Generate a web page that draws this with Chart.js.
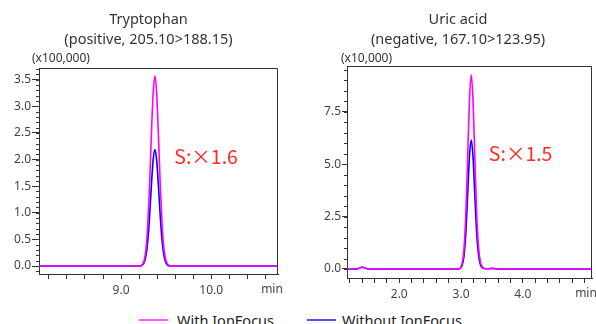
<!DOCTYPE html>
<html>
<head>
<meta charset="utf-8">
<script src="https://cdn.jsdelivr.net/npm/chart.js@4/dist/chart.umd.min.js"></script>
<style>
    html, body { margin: 0; padding: 0; background: #fff; }
    body { width: 596px; height: 324px; position: relative; overflow: hidden; font-family: 'Noto Sans', sans-serif; }
    canvas { position: absolute; top: 0; }
    #trpChart { left: 0; }
    #uaChart { left: 320px; }
    .legend { position: absolute; top: 311px; left: 0; width: 596px; height: 18px; font-size: 14.5px; line-height: 18px; color: #222; }
    .legend span { position: absolute; top: 0; white-space: nowrap; }
    .legend i { position: absolute; top: 8px; width: 29px; height: 0; border-top: 2px solid; }
</style>
</head>
<body>
<canvas id="trpChart" width="298" height="310"></canvas>
<canvas id="uaChart" width="276" height="310"></canvas>
<div class="legend">
    <i style="left:139px; border-color:#ff5cff"></i><span style="left:177px">With IonFocus</span>
    <i style="left:307px; border-color:#5050ff"></i><span style="left:342px">Without IonFocus</span>
</div>
<script>
// Tryptophan (positive, 205.10>188.15), intensity in x100,000
const trpTitle = ['Tryptophan', '(positive, 205.10>188.15)'];
const trpXLabels = [9, 10];
const trpTime = [8.09, 9.215, 9.235, 9.255, 9.275, 9.295, 9.315, 9.335, 9.355, 9.375, 9.395, 9.415, 9.435, 9.455, 9.475, 9.495, 9.515, 9.535, 9.56, 10.74];
const trpWith = [0, 0, 0.03, 0.10, 0.30, 0.74, 1.47, 2.41, 3.23, 3.57, 3.23, 2.42, 1.50, 0.78, 0.33, 0.12, 0.04, 0.01, 0, 0];
const trpWithout = [0, 0, 0.02, 0.06, 0.19, 0.45, 0.90, 1.48, 1.98, 2.19, 1.98, 1.49, 0.92, 0.47, 0.20, 0.07, 0.02, 0, 0, 0];

// Uric acid (negative, 167.10>123.95), intensity in x10,000
const uaTitle = ['Uric acid', '(negative, 167.10>123.95)'];
const uaXLabels = [2, 3, 4];
const uaTime = [1.154, 1.32, 1.36, 1.40, 1.44, 1.48, 1.52, 2.95, 2.985, 3.015, 3.045, 3.075, 3.105, 3.135, 3.165, 3.195, 3.225, 3.255, 3.285, 3.315, 3.345, 3.375, 3.42, 3.50, 3.58, 3.65, 5.12];
const uaWith = [0, 0, 0.06, 0.09, 0.06, 0.01, 0, 0, 0.04, 0.23, 0.86, 2.43, 5.11, 7.99, 9.27, 7.99, 5.15, 2.50, 1.00, 0.32, 0.10, 0.03, 0.01, 0.03, 0.01, 0, 0];
const uaWithout = [0, 0, 0.05, 0.08, 0.05, 0.01, 0, 0, 0.03, 0.15, 0.57, 1.61, 3.40, 5.31, 6.16, 5.31, 3.42, 1.66, 0.64, 0.20, 0.06, 0.02, 0.01, 0.02, 0.01, 0, 0];

const seriesNames = ['With IonFocus', 'Without IonFocus'];
const seriesColors = ['#ff00ff', '#0000ff'];

Chart.defaults.font.family = "'Noto Sans', sans-serif";
Chart.defaults.color = '#444';

// Draws the parts Chart.js has no option for: box, minor ticks, titles, notes
const panelExtras = {
    id: 'panelExtras',
    afterDraw(chart, args, o) {
        const ctx = chart.ctx;
        const a = chart.chartArea;
        const x = chart.scales.x;
        const y = chart.scales.y;
        ctx.save();
        ctx.strokeStyle = '#333';
        ctx.lineWidth = 1;

        // top and right side of the frame
        ctx.beginPath();
        ctx.moveTo(a.left, Math.round(a.top) + 0.5);
        ctx.lineTo(Math.round(a.right) - 0.5, Math.round(a.top) + 0.5);
        ctx.lineTo(Math.round(a.right) - 0.5, a.bottom);
        ctx.stroke();

        // minor y ticks
        ctx.beginPath();
        for (let i = Math.ceil(y.min / o.minorY); i * o.minorY <= y.max; i++) {
            const py = Math.round(y.getPixelForValue(i * o.minorY)) + 0.5;
            ctx.moveTo(a.left - 3, py);
            ctx.lineTo(a.left, py);
        }
        ctx.stroke();

        // titles
        ctx.fillStyle = '#333';
        ctx.textAlign = 'center';
        ctx.textBaseline = 'middle';
        ctx.font = "14.5px 'Noto Sans', sans-serif";
        o.title.forEach((line, i) => ctx.fillText(line, o.titleX, 20 + i * 20));

        // unit label above the y axis
        ctx.textAlign = 'left';
        ctx.font = "12px 'Noto Sans', sans-serif";
        ctx.fillText(o.unit, a.left + o.unitDx, a.top + o.unitDy);

        // axis unit, on the same line as the x tick labels
        ctx.fillStyle = '#444';
        ctx.textAlign = 'center';
        ctx.fillText('min', a.right - 6, a.bottom + 16);

        // sensitivity note
        ctx.fillStyle = '#ff2a2a';
        ctx.textAlign = 'left';
        ctx.font = "19.5px 'Noto Sans CJK JP', 'Noto Sans', sans-serif";
        ctx.fillText(o.note, x.getPixelForValue(o.noteAt[0]), y.getPixelForValue(o.noteAt[1]));
        ctx.restore();
    }
};

function toPoints(times, values) {
    return times.map((t, i) => ({ x: t, y: values[i] }));
}

function makeChart(elementId, times, withVals, withoutVals, cfg) {
    const ctx = document.getElementById(elementId).getContext('2d');
    return new Chart(ctx, {
        type: 'line',
        data: {
            datasets: [withVals, withoutVals].map((vals, i) => ({
                label: seriesNames[i],
                data: toPoints(times, vals),
                borderColor: seriesColors[i],
                borderWidth: 1.6,
                pointRadius: 0,
                cubicInterpolationMode: 'monotone',
                fill: false
            }))
        },
        options: {
            responsive: false,
            animation: false,
            layout: { padding: { top: cfg.top, right: cfg.right, left: 0, bottom: 0 } },
            plugins: {
                legend: { display: false },
                tooltip: { enabled: false },
                panelExtras: cfg.extras
            },
            scales: {
                x: {
                    type: 'linear',
                    min: cfg.xMin,
                    max: cfg.xMax,
                    afterFit: s => { s.height = cfg.xHeight; },
                    border: { color: '#333', width: 1 },
                    grid: { drawOnChartArea: false, tickLength: 5, color: '#333' },
                    ticks: {
                        stepSize: 0.2,
                        includeBounds: false,
                        autoSkip: false,
                        maxRotation: 0,
                        padding: 4,
                        font: { size: 12 },
                        callback: v => cfg.xLabels.some(l => Math.abs(v - l) < 1e-6) ? v.toFixed(1) : ''
                    }
                },
                y: {
                    min: cfg.yMin,
                    max: cfg.yMax,
                    afterFit: s => { s.width = cfg.yWidth; },
                    border: { color: '#333', width: 1 },
                    grid: { drawOnChartArea: false, tickLength: cfg.majorLen, color: '#333' },
                    ticks: {
                        stepSize: cfg.yStep,
                        includeBounds: false,
                        padding: 1,
                        font: { size: 12 },
                        callback: v => v.toFixed(1)
                    }
                }
            }
        },
        plugins: [panelExtras]
    });
}

makeChart('trpChart', trpTime, trpWith, trpWithout, {
    top: 68, right: 20, xHeight: 36, yWidth: 39, majorLen: 7, xLabels: trpXLabels,
    xMin: 8.09, xMax: 10.74, yMin: -0.15, yMax: 3.72, yStep: 0.5,
    extras: { title: trpTitle, titleX: 148.5, unit: '(x100,000)', unitDx: -7, unitDy: -9,
              minorY: 0.1, note: 'S:×1.6', noteAt: [9.59, 2.06] }
});

makeChart('uaChart', uaTime, uaWith, uaWithout, {
    top: 66, right: 4, xHeight: 32, yWidth: 27, majorLen: 5, xLabels: uaXLabels,
    xMin: 1.154, xMax: 5.12, yMin: -0.43, yMax: 9.69, yStep: 2.5,
    extras: { title: uaTitle, titleX: 138, unit: '(x10,000)', unitDx: -6, unitDy: -7,
              minorY: 0.5, note: 'S:×1.5', noteAt: [3.45, 5.49] }
});
</script>
</body>
</html>
